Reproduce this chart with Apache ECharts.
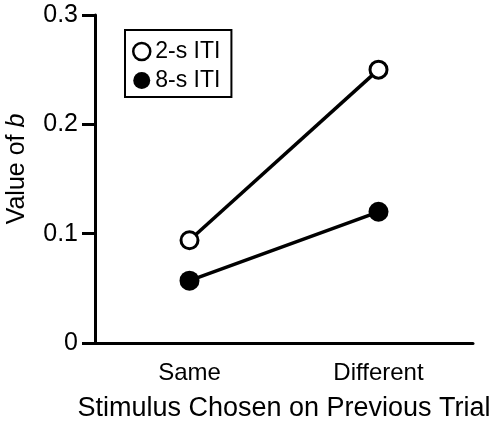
<!DOCTYPE html>
<html>
<head>
<meta charset="utf-8">
<script src="https://cdn.jsdelivr.net/npm/echarts@6/dist/echarts.min.js"></script>
<style>
html, body { margin: 0; padding: 0; background: #fff; }
#chart { width: 491px; height: 422px; }
</style>
</head>
<body>
<div id="chart"></div>
<script>
// 数据
var categories = ['Same', 'Different'];
var iti2s = [0.094, 0.250];
var iti8s = [0.057, 0.120];
var yTicks = [0, 0.1, 0.2, 0.3];

var font = '"Liberation Sans", Arial, Helvetica, sans-serif';

var myChart = echarts.init(document.getElementById('chart'));

var option = {
    animation: false,
    backgroundColor: '#fff',
    textStyle: { fontFamily: font, color: '#000' },
    legend: {
        orient: 'vertical',
        left: 125,
        top: 30,
        borderColor: '#000',
        borderWidth: 2,
        padding: [10, 11, 5, 7],
        itemWidth: 17,
        itemHeight: 17,
        itemGap: 6,
        textStyle: { fontFamily: font, fontSize: 23, color: '#000' },
        data: [{
            name: '2-s ITI',
            icon: 'circle',
            itemStyle: { color: '#fff', borderColor: '#000', borderWidth: 2.5 }
        }, {
            name: '8-s ITI',
            icon: 'circle',
            itemStyle: { color: '#000', borderWidth: 0 }
        }]
    },
    grid: {
        left: 95,
        right: 18,
        top: 15,
        bottom: 79,
        containLabel: false,
        outerBoundsMode: 'none'
    },
    xAxis: {
        type: 'category',
        data: categories,
        boundaryGap: true,
        name: 'Stimulus Chosen on Previous Trial',
        nameLocation: 'middle',
        nameGap: 52,
        nameTextStyle: { fontFamily: font, fontSize: 27, color: '#000' },
        axisLine: { lineStyle: { color: '#000', width: 3 } },
        axisTick: { alignWithLabel: true, length: 13, lineStyle: { color: '#000', width: 3 } },
        axisLabel: { fontFamily: font, fontSize: 24, color: '#000', margin: 18 },
        splitLine: { show: false }
    },
    yAxis: {
        type: 'value',
        min: yTicks[0],
        max: yTicks[yTicks.length - 1],
        interval: 0.1,
        name: 'Value of {b|b}',
        nameLocation: 'middle',
        nameGap: 65,
        nameRotate: 90,
        nameTextStyle: {
            fontFamily: font, fontSize: 25, color: '#000',
            padding: [0, 0, 0, 20],
            rich: { b: { fontFamily: font, fontSize: 25, fontStyle: 'italic', color: '#000' } }
        },
        axisLine: { show: true, lineStyle: { color: '#000', width: 3 } },
        axisTick: { show: true, length: 13, lineStyle: { color: '#000', width: 3 } },
        axisLabel: {
            fontFamily: font, fontSize: 25, color: '#000', margin: 17,
            formatter: function (v) { return v === 0 ? '0' : v.toFixed(1); }
        },
        splitLine: { show: false }
    },
    series: [{
        name: '2-s ITI',
        type: 'line',
        data: iti2s,
        symbol: 'circle',
        symbolSize: 17,
        z: 3,
        lineStyle: { color: '#000', width: 3.5 },
        itemStyle: { color: '#fff', borderColor: '#000', borderWidth: 3 }
    }, {
        name: '8-s ITI',
        type: 'line',
        data: iti8s,
        symbol: 'circle',
        symbolSize: 20,
        z: 2,
        lineStyle: { color: '#000', width: 3.5 },
        itemStyle: { color: '#000', borderColor: '#000', borderWidth: 0 }
    }]
};

myChart.setOption(option);
</script>
</body>
</html>
